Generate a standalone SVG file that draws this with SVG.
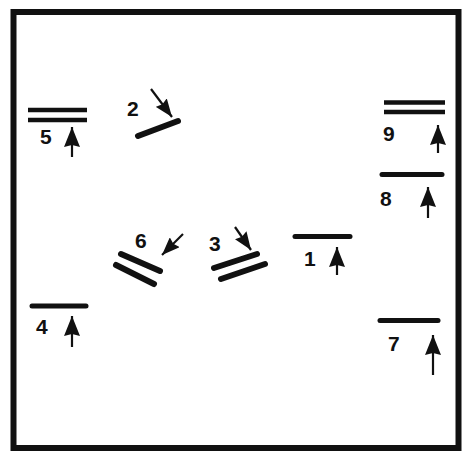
<svg xmlns="http://www.w3.org/2000/svg" width="464" height="456" viewBox="0 0 464 456">
  <defs>
    <style>
      .bar { stroke: #111; stroke-width: 5; stroke-linecap: round; fill: none; }
      .bar2 { stroke: #111; stroke-width: 4.5; stroke-linecap: butt; fill: none; }
      .lbl { font-family: "Liberation Sans", Arial, sans-serif; font-weight: bold; font-size: 21px; fill: #111; }
      .arr { stroke: #111; stroke-width: 2.2; fill: none; marker-end: url(#ah); }
      .arrs { stroke: #111; stroke-width: 2.2; fill: none; marker-end: url(#ahs); }
    </style>
    <marker id="ah" viewBox="0 0 20 18" refX="20" refY="9" markerWidth="20" markerHeight="18" markerUnits="userSpaceOnUse" orient="auto">
      <path d="M0,1 L20,9 L0,17 L2,9 z" fill="#111"/>
    </marker>
    <marker id="ahs" viewBox="0 0 18 14" refX="18" refY="7" markerWidth="18" markerHeight="14" markerUnits="userSpaceOnUse" orient="auto">
      <path d="M0,0 L18,7 L0,14 L2,7 z" fill="#111"/>
    </marker>
  </defs>
  <rect width="464" height="456" fill="#fff"/>
  <rect id="frame" x="13.5" y="12" width="445" height="436" fill="none" stroke="#111" stroke-width="6"/>

  <g id="node5">
    <line class="bar2" x1="28" y1="110" x2="87" y2="110"/>
    <line class="bar2" x1="28" y1="120" x2="87" y2="120"/>
    <text class="lbl" x="40" y="144">5</text>
    <line class="arr" x1="72" y1="157" x2="72" y2="127"/>
  </g>

  <g id="node2">
    <line class="bar" x1="138" y1="136" x2="178" y2="121" style="stroke-width:6"/>
    <text class="lbl" x="127" y="116">2</text>
    <line class="arrs" x1="151" y1="89" x2="172" y2="117"/>
  </g>

  <g id="node9">
    <line class="bar2" x1="384" y1="102.5" x2="445" y2="102.5"/>
    <line class="bar2" x1="384" y1="112" x2="445" y2="112"/>
    <text class="lbl" x="383" y="141">9</text>
    <line class="arr" x1="438" y1="153" x2="438" y2="125"/>
  </g>

  <g id="node8">
    <line class="bar" x1="382" y1="174.5" x2="442" y2="174.5"/>
    <text class="lbl" x="380" y="206">8</text>
    <line class="arr" x1="428" y1="218" x2="428" y2="187"/>
  </g>

  <g id="node6">
    <line class="bar" x1="121" y1="254" x2="160" y2="271" style="stroke-width:6"/>
    <line class="bar" x1="116" y1="265" x2="154" y2="284" style="stroke-width:6"/>
    <text class="lbl" x="135" y="248">6</text>
    <line class="arrs" x1="183" y1="234" x2="162" y2="255"/>
  </g>

  <g id="node3">
    <line class="bar" x1="214" y1="268" x2="257" y2="254" style="stroke-width:6"/>
    <line class="bar" x1="221" y1="279" x2="265" y2="264" style="stroke-width:6"/>
    <text class="lbl" x="209" y="251">3</text>
    <line class="arrs" x1="235" y1="227" x2="251" y2="250"/>
  </g>

  <g id="node1">
    <line class="bar" x1="295" y1="236.5" x2="350" y2="236.5"/>
    <text class="lbl" x="304" y="266">1</text>
    <line class="arr" x1="337" y1="275" x2="337" y2="247"/>
  </g>

  <g id="node4">
    <line class="bar" x1="32" y1="306" x2="86" y2="306"/>
    <text class="lbl" x="36" y="334">4</text>
    <line class="arr" x1="72" y1="347" x2="72" y2="316"/>
  </g>

  <g id="node7">
    <line class="bar" x1="380" y1="320.5" x2="438" y2="320.5"/>
    <text class="lbl" x="388" y="351">7</text>
    <line class="arr" x1="433" y1="375" x2="433" y2="335"/>
  </g>

  <g id="connectors"></g>
</svg>
